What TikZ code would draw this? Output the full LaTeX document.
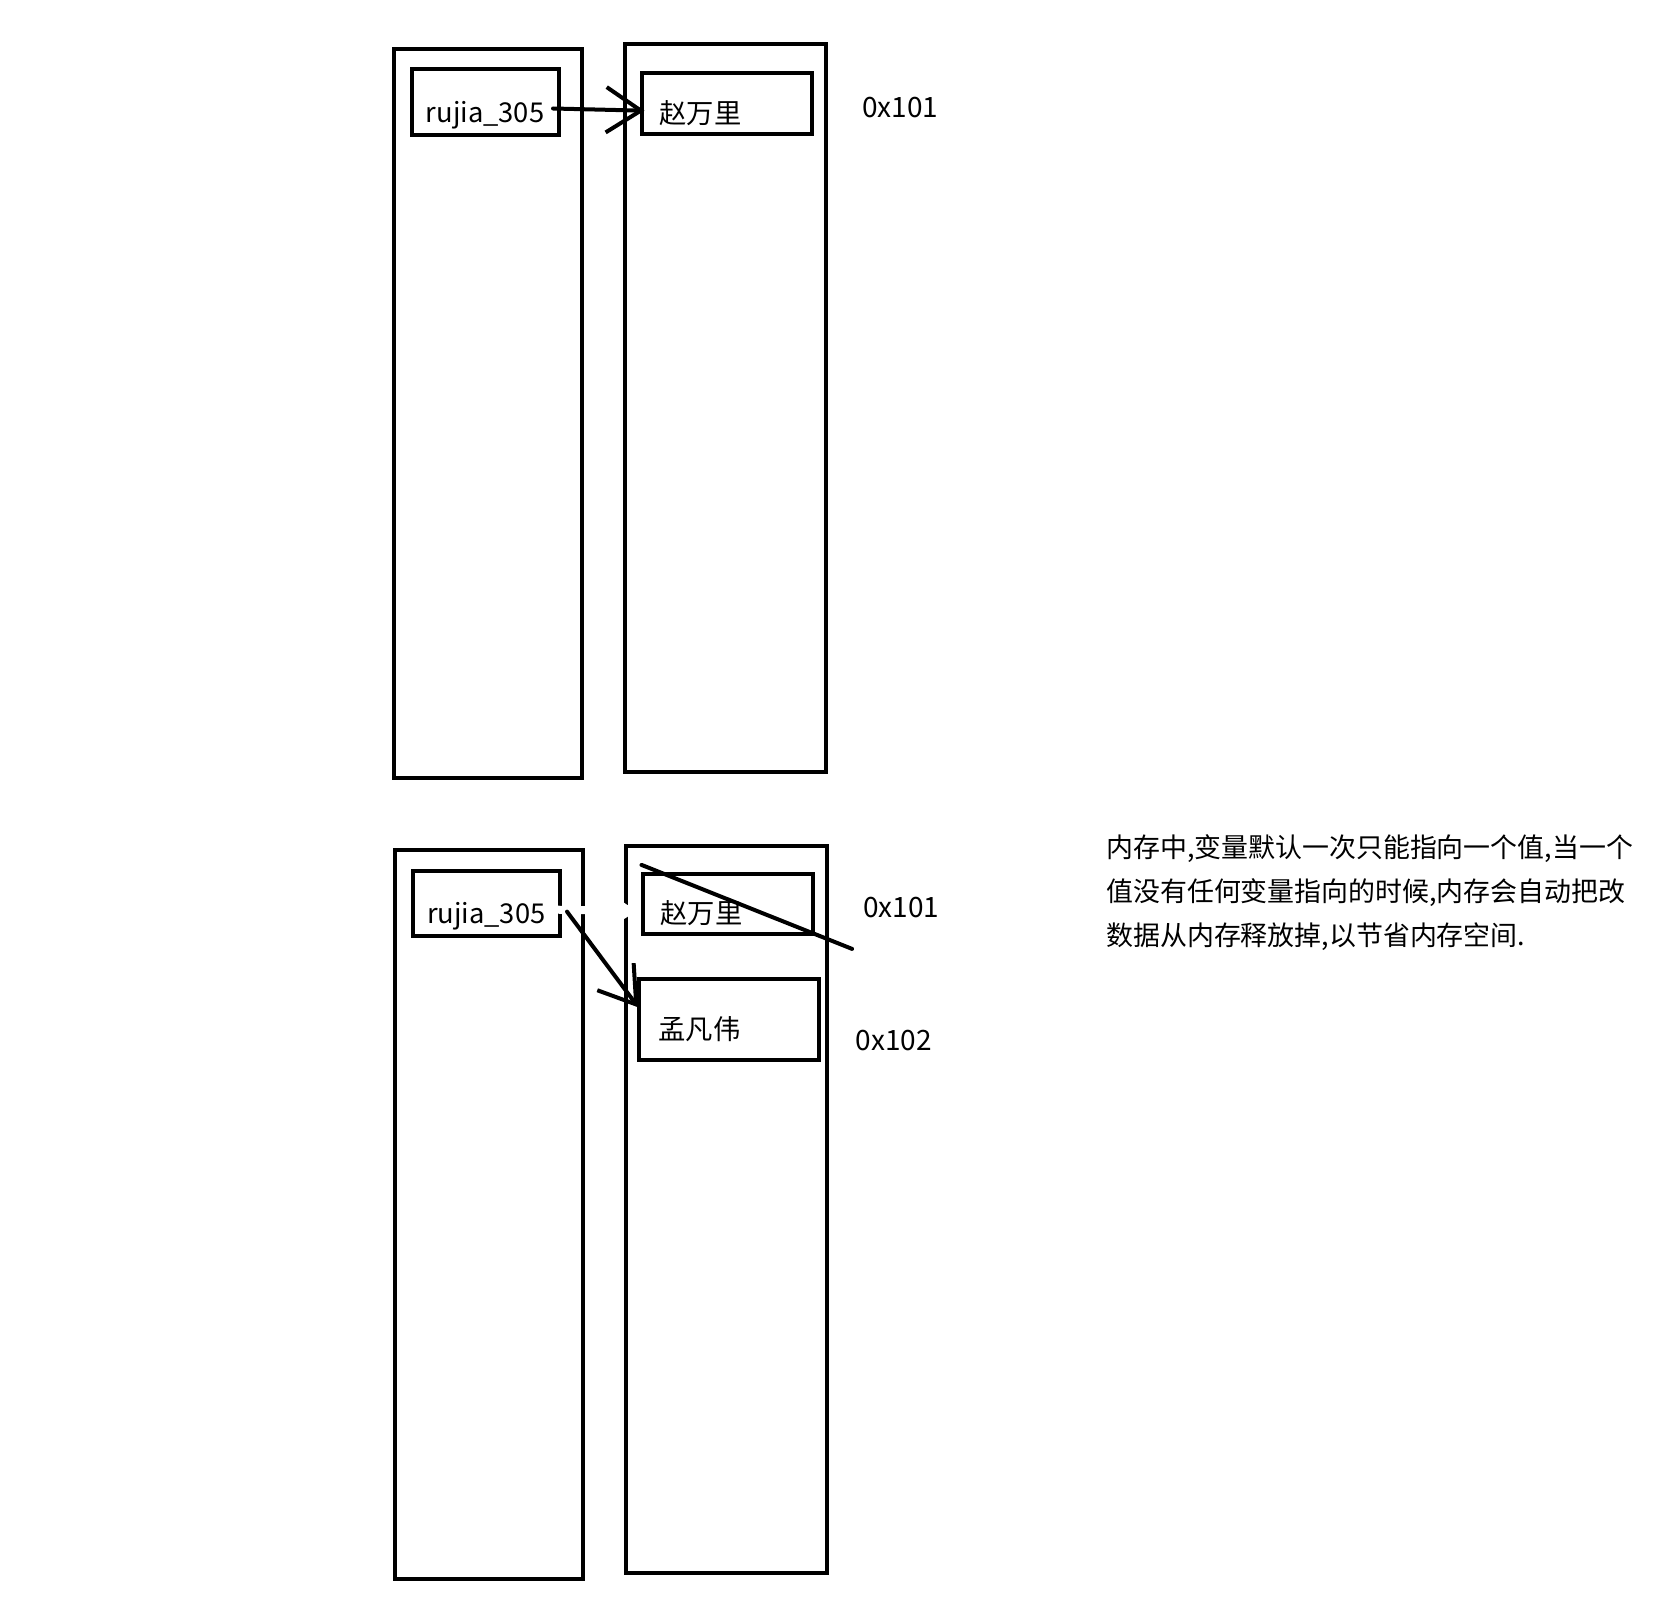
\documentclass[tikz,border=0pt]{standalone}
\usepackage{fontspec}
\setmainfont{Noto Sans CJK SC}
\usepackage{tikz}
\usetikzlibrary{arrows.meta}

\begin{document}
\begin{tikzpicture}[
  x=0.75pt,y=-0.75pt,
  column/.style={rectangle,draw,line width=3pt,inner sep=0pt},
  varbox/.style={rectangle,draw,line width=3pt,inner sep=0pt,font=\fontsize{20.5}{24}\selectfont,text height=30pt,text depth=0pt},
  valbox/.style={rectangle,draw,line width=3pt,inner xsep=13.5pt,inner ysep=0pt,align=left,font=\fontsize{20.5}{24}\selectfont,text height=29pt,text depth=0pt},
  addr/.style={anchor=west,font=\fontsize{21}{25}\selectfont},
  note/.style={anchor=north west,align=left,inner sep=0pt,font=\fontsize{20.2}{33.1}\selectfont},
  arrow/.style={-{Straight Barb[length=26pt,width=34pt]},line width=3pt,line cap=round},
  erased/.style={-{Straight Barb[length=26pt,width=34pt]},line width=6pt,white}
]
  \useasboundingbox (0,0) rectangle (1668,1608);

  % Before: rujia_305 -> 0x101
  \node[column,minimum width=141.2pt,minimum height=546.5pt] (stack1) at (487.75,413.25) {};
  \node[column,minimum width=150.75pt,minimum height=546.5pt] (heap1) at (725,407.95) {};
  \node[varbox,minimum width=110.1pt,minimum height=49.5pt] (var1) at (485.1,102.1) {rujia\_305};
  \node[valbox,text width=100.65pt,minimum height=45.45pt] (val1) at (726.6,103.7) {赵万里};
  \node[addr] (addr1) at (857.4,107.4) {0x101};
  \draw[arrow] ([shift={(-7.5,6.4)}]var1.east) -- ([shift={(5,7)}]val1.west);

  % After: rujia_305 -> 0x102
  \node[column,minimum width=141.2pt,minimum height=546.5pt] (stack2) at (488.85,1214.35) {};
  \node[column,minimum width=150.8pt,minimum height=545.8pt] (heap2) at (726.05,1209.55) {};
  \node[varbox,minimum width=110.1pt,minimum height=48.7pt] (var2) at (486.2,903.65) {rujia\_305};
  \node[valbox,text width=100.65pt,minimum height=44.7pt] (val2) at (727.6,904.2) {赵万里};
  \node[valbox,inner xsep=14.25pt,text width=106.3pt,minimum height=60.6pt,text height=30pt] (val3) at (729.25,1019.1) {孟凡伟};
  \node[addr] (addr2) at (858.5,907.4) {0x101};
  \node[addr] (addr3) at (851,1040.4) {0x102};
  \draw[erased] ([shift={(-7.5,6)}]var2.east) -- ([shift={(-4,7)}]val2.west);
  \draw[arrow] ([shift={(5.4,8)}]var2.east) -- ([shift={(1,-11.7)}]val3.west);

  % old value crossed out
  \coordinate (cross1) at (641.5,864.9);
  \coordinate (cross2) at (852.1,948.9);
  \draw[line width=3pt,line cap=round] (cross1) -- (cross2);

  % Note
  \node[note] (memo) at (1106,834) {内存中,变量默认一次只能指向一个值,当一个\\值没有任何变量指向的时候,内存会自动把改\\数据从内存释放掉,以节省内存空间.};
\end{tikzpicture}
\end{document}
